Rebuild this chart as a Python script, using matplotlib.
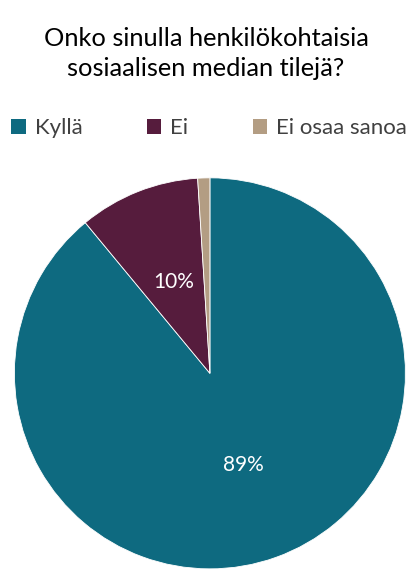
import matplotlib
matplotlib.use("Agg")
import matplotlib.pyplot as plt
from matplotlib.patches import Patch

# data
labels = ["Kyllä", "Ei", "Ei osaa sanoa"]
shares = [89, 10, 1]
colors = ["#0E6A80", "#561C3D", "#B39D83"]
title = "Onko sinulla henkilökohtaisia\nsosiaalisen median tilejä?"

plt.rcParams["font.family"] = ["Lato", "DejaVu Sans"]

fig = plt.figure(figsize=(4.12, 5.70), dpi=100)
ax = fig.add_axes([0.034, 0.002, 0.951, 0.686])


def pct_text(p):
    return f"{p:.0f}%" if p >= 5 else ""


wedges, texts, autotexts = ax.pie(
    shares, colors=colors, startangle=90, counterclock=False,
    autopct=pct_text, pctdistance=0.5,
    wedgeprops=dict(edgecolor="white", linewidth=0.6),
    textprops=dict(color="white", fontsize=15),
)
ax.set_xlim(-1, 1)
ax.set_ylim(-1, 1)
ax.set_aspect("equal")

fig.text(0.5, 0.906, title, ha="center", va="center", fontsize=18.3,
         color="#000000", linespacing=1.35)

handles = [Patch(facecolor=c, edgecolor="none") for c in colors]
fig.legend(handles, labels, loc="center", bbox_to_anchor=(0.508, 0.775),
           ncol=3, frameon=False, fontsize=16, handlelength=0.65,
           handleheight=0.65, handletextpad=0.4, columnspacing=2.9,
           labelcolor="#404040")

fig.savefig("out.png", dpi=100)
